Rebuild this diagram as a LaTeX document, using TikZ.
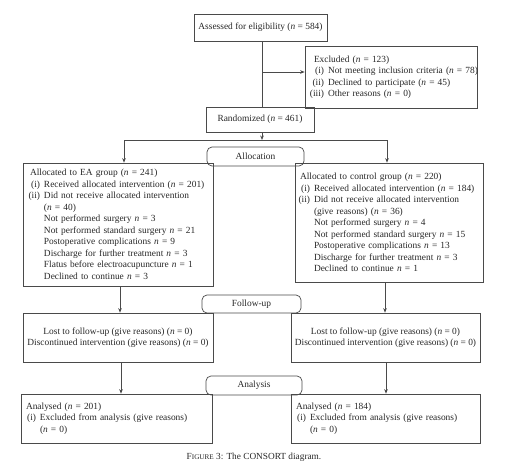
\documentclass[tikz,border=0pt]{standalone}
\usepackage{fontspec}
\setmainfont{Liberation Serif}
\usetikzlibrary{arrows.meta}
\newcommand{\vn}{\textit{n}}
\newlength\labw
\newlength\hdind
\newcommand{\hd}[1]{\hspace*{\hdind}\mbox{#1}}
\newcommand{\li}[2]{\makebox[\labw][r]{#1}\hspace*{4pt}\mbox{#2}}
\newcommand{\ct}[1]{\hspace*{\labw}\hspace*{4pt}\mbox{#1}}
\definecolor{ln}{HTML}{4A4A4A}
\definecolor{tx}{HTML}{262626}
\tikzset{
  box/.style={draw=ln, line width=0.7pt, rectangle, inner ysep=0pt, text=tx,
    font=\fontsize{9.4}{11.5}\selectfont},
  lbox/.style={box, align=left, inner xsep=4pt},
  cbox/.style={box, align=center, inner xsep=0pt},
  stage/.style={draw=ln, line width=0.7pt, rounded corners=5pt, text=tx, inner sep=0pt,
    font=\fontsize{9.4}{11.5}\selectfont},
  conn/.style={draw=ln, line width=0.7pt},
  arr/.style={conn, -{Stealth[length=4.5pt,width=3.6pt]}},
}
\begin{document}
\begin{tikzpicture}[x=1pt,y=-1pt]
\useasboundingbox (0,0) rectangle (513,471);
% boxes
\node[cbox, minimum width=133pt, minimum height=27pt] (assess) at (260.5,27.5)
  {Assessed for eligibility (\vn{} = 584)};
\node[lbox, minimum width=172pt, minimum height=62pt, text width=164pt] (excl) at (391,77)
  {\setlength\labw{15pt}\setlength\hdind{5pt}%
   \hd{Excluded (\vn{} = 123)}\\
   \li{(i)}{Not meeting inclusion criteria (\vn{} = 78)}\\
   \li{(ii)}{Declined to participate (\vn{} = 45)}\\
   \li{(iii)}{Other reasons (\vn{} = 0)}};
\node[cbox, minimum width=108pt, minimum height=25pt] (rand) at (260,119.5)
  {Randomized (\vn{} = 461)};
\node[lbox, minimum width=190pt, minimum height=123pt, text width=182pt] (ea) at (118,224.5)
  {\setlength\labw{13pt}\setlength\hdind{3pt}%
   \hd{Allocated to EA group (\vn{} = 241)}\\
   \li{(i)}{Received allocated intervention (\vn{} = 201)}\\
   \li{(ii)}{Did not receive allocated intervention}\\
   \ct{(\vn{} = 40)}\\
   \ct{Not performed surgery \vn{} = 3}\\
   \ct{Not performed standard surgery \vn{} = 21}\\
   \ct{Postoperative complications \vn{} = 9}\\
   \ct{Discharge for further treatment \vn{} = 3}\\
   \ct{Flatus before electroacupuncture \vn{} = 1}\\
   \ct{Declined to continue \vn{} = 3}};
\node[lbox, minimum width=188pt, minimum height=119pt, text width=180pt] (ctrl) at (389,222.5)
  {\setlength\labw{11pt}\setlength\hdind{1pt}%
   \hd{Allocated to control group (\vn{} = 220)}\\
   \li{(i)}{Received allocated intervention (\vn{} = 184)}\\
   \li{(ii)}{Did not receive allocated intervention}\\
   \ct{(give reasons) (\vn{} = 36)}\\
   \ct{Not performed surgery \vn{} = 4}\\
   \ct{Not performed standard surgery \vn{} = 15}\\
   \ct{Postoperative complications \vn{} = 13}\\
   \ct{Discharge for further treatment \vn{} = 3}\\
   \ct{Declined to continue \vn{} = 1}};
\node[cbox, minimum width=190pt, minimum height=49pt] (fuL) at (118,337.5)
  {Lost to follow-up (give reasons) (\vn{} = 0)\\Discontinued intervention (give reasons) (\vn{} = 0)};
\node[cbox, minimum width=189pt, minimum height=49pt] (fuR) at (385.5,337.5)
  {Lost to follow-up (give reasons) (\vn{} = 0)\\Discontinued intervention (give reasons) (\vn{} = 0)};
\node[lbox, inner xsep=5pt, minimum width=191pt, minimum height=49pt, text width=181pt] (anL) at (116.5,418.5)
  {\setlength\labw{10pt}\setlength\hdind{0pt}%
   \hd{Analysed (\vn{} = 201)}\\
   \li{(i)}{Excluded from analysis (give reasons)}\\
   \ct{(\vn{} = 0)}};
\node[lbox, inner xsep=5pt, minimum width=189pt, minimum height=49pt, text width=179pt] (anR) at (385.5,418.5)
  {\setlength\labw{10pt}\setlength\hdind{0pt}%
   \hd{Analysed (\vn{} = 184)}\\
   \li{(i)}{Excluded from analysis (give reasons)}\\
   \ct{(\vn{} = 0)}};
% stage labels
\node[stage, minimum width=97pt, minimum height=19pt] (salloc) at (255.5,156.5) {Allocation};
\node[stage, minimum width=99pt, minimum height=18pt] (sfu) at (251.5,304) {Follow-up};
\node[stage, minimum width=96pt, minimum height=19pt] (san) at (254,385.5) {Analysis};
% caption
\node[text=tx, font=\fontsize{9.3}{11}\selectfont, inner sep=0pt] (cap) at (254,457)
  {F{\fontsize{7.2}{8}\selectfont IGURE} 3: The CONSORT diagram.};
% coordinates
\coordinate (br) at (262,72);
\coordinate (split) at (262,140);
\coordinate (sl) at (124,140);
\coordinate (sr) at (387,140);
\coordinate (c1) at (120,0);
\coordinate (c2) at (121,0);
\coordinate (c3) at (385,0);
\coordinate (c4) at (386,0);
% connectors
\draw[conn] (assess.south -| br) -- (rand.north -| br);
\draw[arr] (br) -- (br -| excl.west);
\draw[arr] (rand.south -| split) -- (split);
\draw[conn] (sl) -- (sr);
\draw[arr] (sl) -- (sl |- ea.north);
\draw[arr] (sr) -- (sr |- ctrl.north);
\draw[arr] (ea.south -| c1) -- (fuL.north -| c1);
\draw[arr] (ctrl.south -| c3) -- (fuR.north -| c3);
\draw[arr] (fuL.south -| c2) -- (anL.north -| c2);
\draw[arr] (fuR.south -| c4) -- (anR.north -| c4);
\end{tikzpicture}
\end{document}
